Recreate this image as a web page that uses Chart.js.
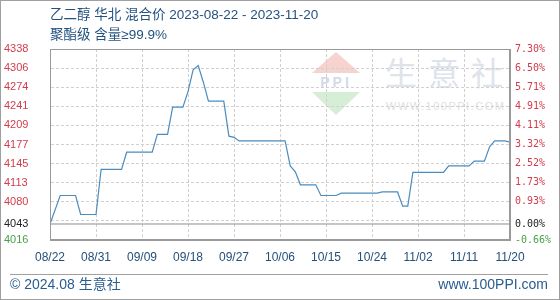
<!DOCTYPE html>
<html>
<head>
<meta charset="utf-8">
<script src="https://cdn.jsdelivr.net/npm/chart.js@4/dist/chart.umd.min.js"></script>
<style>
    body { margin: 0; background: #fff; }
    #caja { position: relative; width: 560px; height: 300px; overflow: hidden; font-family: "Liberation Sans", "Noto Sans CJK SC", sans-serif; }
    #marco { position: absolute; left: 0; top: 0; width: 558px; height: 298px; border: 1px solid #a0a0a0; pointer-events: none; }
    .titulo { position: absolute; left: 50px; font-size: 13.5px; line-height: 18px; color: #245280; white-space: nowrap; font-family: "Liberation Sans", "Noto Sans CJK SC", sans-serif; }
    #agua { position: absolute; left: 385px; top: 55px; font-size: 32px; line-height: 32px; letter-spacing: 11px; color: #dee3ec; font-family: "Noto Sans CJK SC", sans-serif; white-space: nowrap; }
    #aguaWeb { position: absolute; left: 386px; top: 100px; font-size: 11px; line-height: 12px; letter-spacing: 1.5px; color: #e0e0e0; white-space: nowrap; }
    #logoArriba { position: absolute; left: 312px; top: 52px; width: 0; height: 0; border-left: 24px solid transparent; border-right: 24px solid transparent; border-bottom: 21px solid #f6d3cf; }
    #logoTexto { position: absolute; left: 312px; top: 75px; width: 48px; text-align: center; font-size: 14px; line-height: 15px; font-weight: bold; letter-spacing: 3px; color: #d3dbeb; }
    #logoAbajo { position: absolute; left: 312px; top: 92px; width: 0; height: 0; border-left: 24px solid transparent; border-right: 24px solid transparent; border-top: 23px solid #d6edd6; }
    #linea { position: absolute; left: 10px; top: 274px; width: 538px; height: 1px; background: #a0a0a0; }
    .pie { position: absolute; top: 275px; font-size: 14px; line-height: 18px; color: #2a5d8f; white-space: nowrap; }
    canvas { position: absolute; left: 0; top: 0; }
</style>
</head>
<body>
<div id="caja">
    <div id="logoArriba"></div>
    <div id="logoTexto">PPI</div>
    <div id="logoAbajo"></div>
    <div id="agua">生意社</div>
    <div id="aguaWeb">WWW.100PPI.COM</div>
    <canvas id="precioChart" width="560" height="300"></canvas>
    <div class="titulo" style="top:6px">乙二醇 华北 混合价 2023-08-22 - 2023-11-20</div>
    <div class="titulo" style="top:26px">聚酯级 含量≥99.9%</div>
    <div id="linea"></div>
    <div class="pie" style="left:10px">© 2024.08 生意社</div>
    <div class="pie" style="right:12px">www.100PPI.com</div>
    <div id="marco"></div>
</div>
<script>
// Datos (precio en yuanes/tonelada)
const fechaInicio = '2023-08-22';
const fechas = [
    '2023-08-22', '2023-08-24', '2023-08-27', '2023-08-28', '2023-08-31', '2023-09-01',
    '2023-09-05', '2023-09-06', '2023-09-11', '2023-09-12', '2023-09-14', '2023-09-15',
    '2023-09-17', '2023-09-18', '2023-09-19', '2023-09-20', '2023-09-21', '2023-09-22',
    '2023-09-25', '2023-09-26', '2023-09-27', '2023-09-28', '2023-10-07', '2023-10-08',
    '2023-10-09', '2023-10-10', '2023-10-13', '2023-10-14', '2023-10-17', '2023-10-18',
    '2023-10-25', '2023-10-26', '2023-10-29', '2023-10-30', '2023-10-31', '2023-11-01',
    '2023-11-07', '2023-11-08', '2023-11-12', '2023-11-13', '2023-11-15', '2023-11-16',
    '2023-11-17', '2023-11-19', '2023-11-20'
];
const precios = [
    4043, 4091, 4091, 4059, 4059, 4135,
    4135, 4164, 4164, 4194, 4194, 4240,
    4240, 4266, 4303, 4310, 4282, 4250,
    4250, 4191, 4189, 4183, 4183, 4141,
    4131, 4109, 4109, 4091, 4091, 4095,
    4095, 4097, 4097, 4073, 4073, 4130,
    4130, 4141, 4141, 4149, 4149, 4173,
    4183, 4183, 4181
];
const precioBase = 4043;
const diasTotales = 90;

// Marcas de los ejes
const yTicks = [4016, 4043, 4048.2, 4080.4, 4112.6, 4144.8, 4177, 4209.2, 4241.4, 4273.6, 4305.8, 4338];
const yEtiquetas = ['4016', '4043', '', '4080', '4113', '4145', '4177', '4209', '4241', '4274', '4306', '4338'];
const pctEtiquetas = ['-0.66%', '0.00%', '', '0.93%', '1.73%', '2.52%', '3.32%', '4.11%', '4.91%', '5.71%', '6.50%', '7.30%'];
const xEtiquetas = ['08/22', '08/31', '09/09', '09/18', '09/27', '10/06', '10/15', '10/24', '11/02', '11/11', '11/20'];

const ROJO = '#d23c4b';
const VERDE = '#4aa04a';
const NEGRO = '#222222';

function diaDesdeInicio(fecha) {
    return Math.round((Date.parse(fecha) - Date.parse(fechaInicio)) / 86400000);
}

function colorEtiqueta(ctx) {
    if (!ctx.tick) return NEGRO;
    if (ctx.tick.value > precioBase) return ROJO;
    if (ctx.tick.value < precioBase) return VERDE;
    return NEGRO;
}

function colorRejilla(ctx) {
    if (ctx.tick && ctx.tick.value === precioBase) return 'rgba(0,0,0,0)';
    return '#d0d0d0';
}

const puntos = fechas.map((f, i) => ({ x: diaDesdeInicio(f), y: precios[i] }));

// Marco gris alrededor del área del gráfico
const marcoPlugin = {
    id: 'marco',
    afterDraw(chart) {
        const { ctx, chartArea } = chart;
        const l = Math.round(chartArea.left) + 0.5;
        const t = Math.round(chartArea.top) + 0.5;
        const r = Math.round(chartArea.right) - 0.5;
        const b = Math.round(chartArea.bottom) - 0.5;
        ctx.save();
        ctx.strokeStyle = '#9a9a9a';
        ctx.lineWidth = 1;
        ctx.strokeRect(l, t, r - l, b - t);
        ctx.restore();
    }
};

new Chart(document.getElementById('precioChart'), {
    type: 'line',
    data: {
        datasets: [{
            label: '混合价',
            data: puntos,
            borderColor: '#4b8cbf',
            borderWidth: 1.2,
            pointRadius: 0,
            tension: 0,
            fill: false
        }, {
            label: 'base',
            data: [{ x: 0, y: precioBase }, { x: diasTotales, y: precioBase }],
            borderColor: '#8c8c8c',
            borderWidth: 1,
            pointRadius: 0,
            fill: false
        }]
    },
    options: {
        responsive: false,
        animation: false,
        devicePixelRatio: 1,
        layout: { padding: { left: 4, top: 49, right: 0, bottom: 32 } },
        plugins: {
            legend: { display: false },
            tooltip: { enabled: false }
        },
        scales: {
            x: {
                type: 'linear',
                min: 0,
                max: diasTotales,
                afterFit: s => { s.height = 28; },
                grid: { color: '#d0d0d0', drawTicks: false },
                border: { display: true, color: '#9a9a9a', dash: [3, 2] },
                ticks: {
                    stepSize: 9,
                    autoSkip: false,
                    maxRotation: 0,
                    padding: 10,
                    color: '#24507a',
                    font: { family: 'Liberation Sans', size: 12 },
                    callback: (v, i) => xEtiquetas[i]
                }
            },
            y: {
                position: 'left',
                min: 4016,
                max: 4338,
                afterFit: s => { s.width = 46; },
                afterBuildTicks: s => { s.ticks = yTicks.map(v => ({ value: v })); },
                grid: { color: colorRejilla, drawTicks: false },
                border: { display: true, color: '#9a9a9a', dash: [3, 2] },
                ticks: {
                    autoSkip: false,
                    crossAlign: 'far',
                    padding: 4,
                    color: colorEtiqueta,
                    font: { family: 'Liberation Sans', size: 11 },
                    callback: (v, i) => yEtiquetas[i]
                }
            },
            y2: {
                position: 'right',
                display: true,
                min: 4016,
                max: 4338,
                afterFit: s => { s.width = 50; },
                afterBuildTicks: s => { s.ticks = yTicks.map(v => ({ value: v })); },
                grid: { display: false, drawTicks: false },
                border: { display: true, color: '#9a9a9a' },
                ticks: {
                    autoSkip: false,
                    padding: 5,
                    color: colorEtiqueta,
                    font: { family: 'DejaVu Sans Mono', size: 10 },
                    callback: (v, i) => pctEtiquetas[i]
                }
            }
        }
    },
    plugins: [marcoPlugin]
});
</script>
</body>
</html>
